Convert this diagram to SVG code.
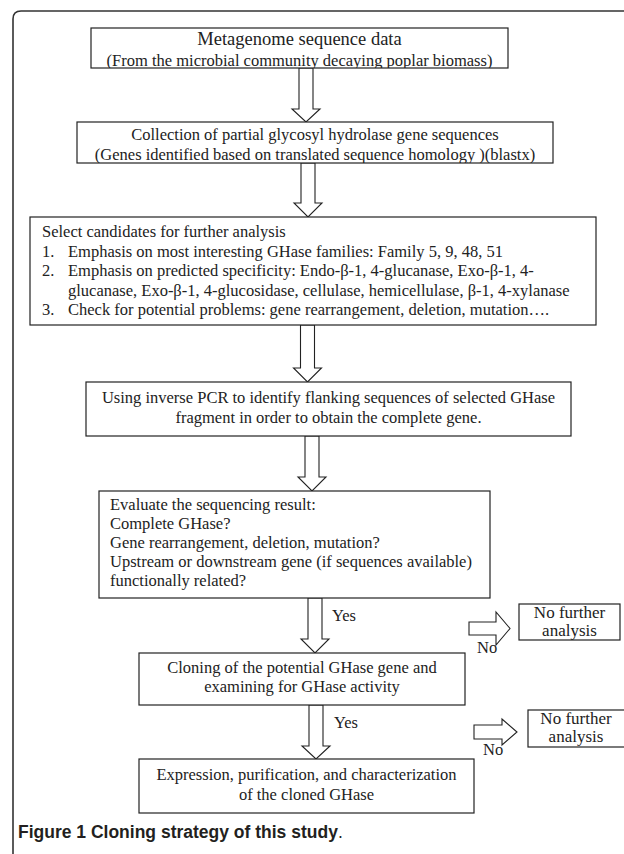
<svg xmlns="http://www.w3.org/2000/svg" width="624" height="854" viewBox="0 0 624 854">
<style>
.box{fill:#fff;stroke:#222;stroke-width:1.2}
.t{font-family:"Liberation Serif","Times New Roman",serif;font-size:16.5px;fill:#222}
.c{text-anchor:middle}
.nf{font-size:17px}
.arr{fill:#fff;stroke:#222;stroke-width:1.1;stroke-linejoin:miter}
.cap{font-family:"Liberation Sans",Arial,sans-serif;font-size:17.5px;fill:#231f20}
</style>
<defs>
<clipPath id="c1"><rect x="91" y="28" width="417" height="40"/></clipPath>
<clipPath id="c2"><rect x="77" y="122" width="476" height="41"/></clipPath>
</defs>
<rect width="624" height="854" fill="#fff"/>
<path d="M13,870 V19 Q13,11 21,11 H640" fill="none" stroke="#333" stroke-width="1.6"/>
<g id="connectors">
<polygon class="arr" points="299,68 313,68 313,109 320,109 306,122 292,109 299,109"/>
<polygon class="arr" points="301,163 315,163 315,203 322,203 308,217 294,203 301,203"/>
<polygon class="arr" points="300.5,325 314.5,325 314.5,368 321.5,368 307.5,382 293.5,368 300.5,368"/>
<polygon class="arr" points="305,436 319,436 319,477 326,477 312,491 298,477 305,477"/>
<polygon class="arr" points="308,598 322,598 322,639 329,639 315,653 301,639 308,639"/>
<polygon class="arr" points="309,705 323,705 323,746 330,746 316,759 302,746 309,746"/>
<polygon class="arr" points="469,622 496,622 496,612 510,628.5 496,645 496,635 469,635"/>
<polygon class="arr" points="474,725 502,725 502,719 517,732 502,745 502,739 474,739"/>
<text class="t" x="332" y="621">Yes</text>
<text class="t" x="477" y="653">No</text>
<text class="t" x="334" y="728">Yes</text>
<text class="t" x="483" y="755">No</text>
</g>
<g id="n1">
<rect class="box" x="91" y="28" width="417" height="40"/>
<g clip-path="url(#c1)">
<text class="t c" x="299.5" y="45" style="font-size:18.5px">Metagenome sequence data</text>
<text class="t c" x="299.5" y="66">(From the microbial community decaying poplar biomass)</text>
</g>
</g>
<g id="n2">
<rect class="box" x="77" y="122" width="476" height="41"/>
<g clip-path="url(#c2)">
<text class="t c" x="315" y="140">Collection of partial glycosyl hydrolase gene sequences</text>
<text class="t c" x="315" y="159.5">(Genes identified based on translated sequence homology )(blastx)</text>
</g>
</g>
<g id="n3">
<rect class="box" x="30" y="217" width="566" height="108"/>
<text class="t" x="42" y="237">Select candidates for further analysis</text>
<text class="t" x="42" y="256.5">1.</text>
<text class="t" x="68" y="256.5">Emphasis on most interesting GHase families: Family 5, 9, 48, 51</text>
<text class="t" x="42" y="276">2.</text>
<text class="t" x="68" y="276">Emphasis on predicted specificity: Endo-β-1, 4-glucanase, Exo-β-1, 4-</text>
<text class="t" x="68" y="295.5">glucanase, Exo-β-1, 4-glucosidase, cellulase, hemicellulase, β-1, 4-xylanase</text>
<text class="t" x="42" y="315">3.</text>
<text class="t" x="68" y="315">Check for potential problems: gene rearrangement, deletion, mutation….</text>
</g>
<g id="n4">
<rect class="box" x="86" y="382" width="485" height="54"/>
<text class="t c" x="328.5" y="403">Using inverse PCR to identify flanking sequences of selected GHase</text>
<text class="t c" x="328.5" y="423">fragment in order to obtain the complete gene.</text>
</g>
<g id="n5">
<rect class="box" x="99" y="491" width="391" height="107"/>
<text class="t" x="110" y="510">Evaluate the sequencing result:</text>
<text class="t" x="110" y="529">Complete GHase?</text>
<text class="t" x="110" y="548">Gene rearrangement, deletion, mutation?</text>
<text class="t" x="110" y="567">Upstream or downstream gene (if sequences available)</text>
<text class="t" x="110" y="586">functionally related?</text>
</g>
<g id="n6">
<rect class="box" x="519" y="604" width="101" height="36"/>
<text class="t c nf" x="569.5" y="618">No further</text>
<text class="t c nf" x="569.5" y="635.5">analysis</text>
</g>
<g id="n7">
<rect class="box" x="139" y="653" width="326" height="52"/>
<text class="t c" x="302" y="673">Cloning of the potential GHase gene and</text>
<text class="t c" x="302" y="692">examining for GHase activity</text>
</g>
<g id="n8">
<rect class="box" x="528" y="710" width="98" height="37"/>
<text class="t c nf" x="576" y="724">No further</text>
<text class="t c nf" x="576" y="741.5">analysis</text>
</g>
<g id="n9">
<rect class="box" x="139" y="759" width="335" height="54"/>
<text class="t c" x="306.5" y="780">Expression, purification, and characterization</text>
<text class="t c" x="306.5" y="800">of the cloned GHase</text>
</g>
<text class="cap" x="18" y="838"><tspan font-weight="bold">Figure 1 Cloning strategy of this study</tspan>.</text>
</svg>
